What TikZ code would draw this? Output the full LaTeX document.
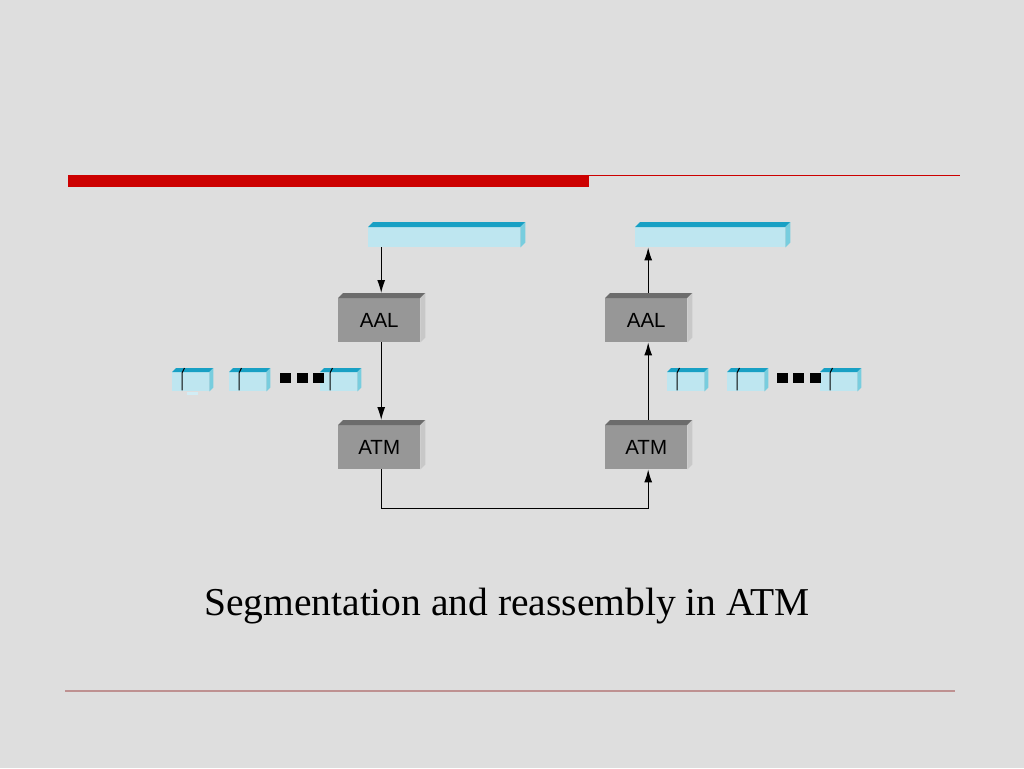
\documentclass[tikz,border=0pt]{standalone}
\usepackage{fontspec}
\setmainfont{Liberation Serif}
\newfontfamily\labelfont{Liberation Sans}
\usetikzlibrary{calc,arrows.meta}
\definecolor{bg}{RGB}{222,222,222}
\definecolor{redbar}{RGB}{204,0,0}
\definecolor{footline}{RGB}{190,145,145}
\definecolor{cyanfront}{RGB}{190,230,240}
\definecolor{cyantop}{RGB}{24,160,196}
\definecolor{cyanside}{RGB}{120,205,222}
\definecolor{grayfront}{RGB}{151,151,151}
\definecolor{graytop}{RGB}{108,108,108}
\definecolor{grayside}{RGB}{200,200,200}
\begin{document}
\begin{tikzpicture}[x=1pt,y=-1pt,
  pdu/.style={fill=cyanfront,inner sep=0pt,anchor=north west,minimum height=20pt},
  layerbox/.style={fill=grayfront,inner sep=0pt,anchor=north west,minimum width=82pt,minimum height=44pt,
    font=\labelfont\fontsize{20.5}{24}\selectfont},
  cellbox/.style={fill=cyanfront,inner sep=0pt,anchor=north west,minimum width=37pt,minimum height=19pt},
  dotsq/.style={fill=black},
  arr/.style={line width=1.1pt,-{Latex[length=13pt,width=8pt]}},
  link/.style={line width=1.1pt}]
\fill[bg] (0,0) rectangle (1024,768);
\useasboundingbox (0,0) rectangle (1024,768);
% header and footer rules
\fill[redbar] (68,175) rectangle (589,187);
\draw[redbar,line width=1.5pt] (589,175.5) -- (960,175.5);
\draw[footline,line width=1.1pt] (65,691) -- (955,691);
% PDU bars
\node[pdu,minimum width=152pt] (tl) at (368,227) {};
\node[pdu,minimum width=150pt] (tr) at (635,227) {};
% layer boxes
\node[layerbox] (aall) at (338,298) {AAL};
\node[layerbox] (atml) at (338,425) {ATM};
\node[layerbox] (aalr) at (605,298) {AAL};
\node[layerbox] (atmr) at (605,425) {ATM};
% 3D faces
\foreach \n/\t/\s in {tl/cyantop/cyanside,tr/cyantop/cyanside,aall/graytop/grayside,atml/graytop/grayside,aalr/graytop/grayside,atmr/graytop/grayside}{
  \fill[\t] (\n.north west) -- ++(5,-5) -- ($(\n.north east)+(5,-5)$) -- (\n.north east) -- cycle;
  \fill[\s] (\n.north east) -- ++(5,-5) -- ($(\n.south east)+(5,-5)$) -- (\n.south east) -- cycle;
}
% cells
\foreach \n/\x in {c1/172,c2/229,c3/320,d1/667,d2/727,d3/820}{
  \node[cellbox] (\n) at (\x,372) {};
  \fill[cyantop] (\n.north west) -- ++(4,-4) -- ($(\n.north east)+(4,-4)$) -- (\n.north east) -- cycle;
  \fill[cyanside] (\n.north east) -- ++(4,-4) -- ($(\n.south east)+(4,-4)$) -- (\n.south east) -- cycle;
  \draw[line width=1pt,black] ($(\n.north west)+(12.5,-4)$) -- ($(\n.north west)+(10,1)$) -- ($(\n.south west)+(10,-1)$);
}
\fill[cyanfront!70!white] (187,392) rectangle (198,395);
% dots
\foreach \x in {280,297,313,777,793,810}{
  \fill[dotsq] (\x,373) rectangle ++(11,10);
}
% connectors
\draw[arr] ([xshift=2pt]aall.north |- tl.south) -- ([xshift=2pt,yshift=5pt]aall.north);
\draw[arr] ([xshift=2pt]aall.south) -- ([xshift=2pt,yshift=5pt]atml.north);
\draw[arr] ([xshift=2pt,yshift=5pt]atmr.north) -- ([xshift=2pt]aalr.south);
\draw[arr] ([xshift=2pt,yshift=5pt]aalr.north) -- ([xshift=2pt]aalr.north |- tr.south);
\draw[arr] ([xshift=2pt]atml.south) -- ++(0,39) -| ([xshift=2pt]atmr.south);
% caption
\node[font=\fontsize{39.5}{46}\selectfont,anchor=base] (cap) at (507,615) {Segmentation and reassembly in ATM};
\end{tikzpicture}
\end{document}
